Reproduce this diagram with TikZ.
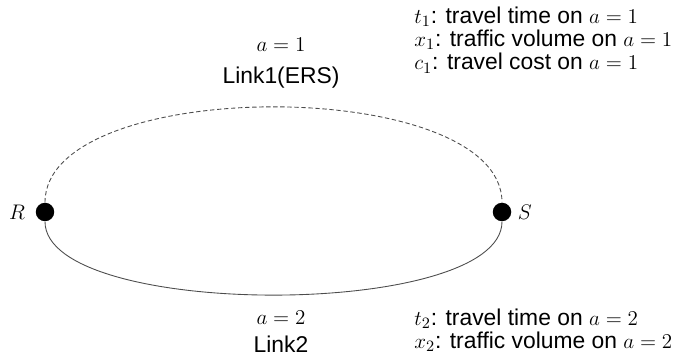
\documentclass[tikz,border=0pt]{standalone}
\usepackage{fontspec}
\setmainfont{Liberation Sans}
\usetikzlibrary{positioning}

\begin{document}
\begin{tikzpicture}[x=0.02cm, y=0.02cm,
  endpoint/.style={circle, fill=black, inner sep=0pt, minimum size=0.37cm},
  link/.style={draw=black!70, line width=0.5pt},
  label/.style={font=\fontsize{13}{13.2}\selectfont, inner sep=0pt},
]
\useasboundingbox (0,0) rectangle (690,358);

% === ORIGIN R AND DESTINATION S ===
\node[endpoint] (r) at (45,146) {};
\node[endpoint] (s) at (502,146) {};
\node[label, left=0.2cm of r] (rname) {$R$};
\node[label, right=0.12cm of s] (sname) {$S$};

% === THE TWO LINKS ===
\draw[link, dash pattern=on 2.5pt off 1.5pt] (r.north) to[out=90, in=90, looseness=0.715] (s.north);
\draw[link] (r.south) to[out=-90, in=-90, looseness=0.55] (s.south);

% === LINK NAMES ===
\node[label] (a1) at (281,313) {$a=1$};
\node[label] (link1) at (281,280) {Link1(ERS)};
\node[label] (a2) at (281,40) {$a=2$};
\node[label] (link2) at (281,14) {Link2};

% === ATTRIBUTES ===
\node[label, anchor=west, align=left] (attr1) at (414,318)
  {$t_1$: travel time on $a=1$\\$x_1$: traffic volume on $a=1$\\$c_1$: travel cost on $a=1$};
\node[label, anchor=west, align=left] (attr2) at (414,27.5)
  {$t_2$: travel time on $a=2$\\$x_2$: traffic volume on $a=2$};
\end{tikzpicture}
\end{document}
